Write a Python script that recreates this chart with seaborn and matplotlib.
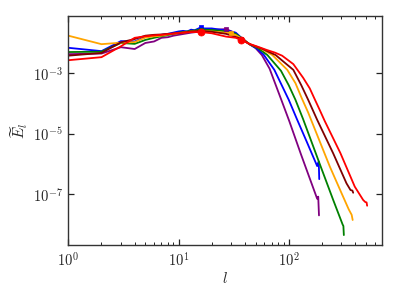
import numpy as np
import pandas as pd
import matplotlib
matplotlib.use("Agg")
import matplotlib.pyplot as plt
import seaborn as sns
from matplotlib.ticker import FixedLocator, FuncFormatter, NullLocator, NullFormatter, LogLocator

# ---- data (l, E_l) ----
purple_l = [1, 2, 3, 4, 5, 6, 7, 8, 9, 10, 13, 16, 20, 27, 33, 37, 44, 50, 57, 67, 85, 101, 129, 181, 185, 188]
purple_E = [4.27e-3, 4.47e-3, 7.24e-3, 6.31e-3, 1.0e-2, 1.12e-2, 1.48e-2, 1.55e-2, 1.74e-2, 1.86e-2, 2.19e-2, 2.40e-2,
            2.69e-2, 2.88e-2, 2.09e-2, 1.38e-2, 9.12e-3, 6.76e-3, 3.98e-3, 1.41e-3, 1.41e-4, 2.63e-5, 2.09e-6,
            7.08e-8, 8.32e-8, 2.0e-8]

blue_l = [1, 2, 3, 4, 5, 6, 7, 8, 10, 11, 12, 13, 14, 15, 16, 17, 20, 24, 27, 33, 38, 44, 51, 59, 74, 100, 118, 145,
          181, 187, 189]
blue_E = [6.92e-3, 5.37e-3, 1.15e-2, 1.12e-2, 1.58e-2, 1.74e-2, 1.86e-2, 2.0e-2, 2.40e-2, 2.51e-2, 2.40e-2, 2.75e-2,
          2.63e-2, 2.95e-2, 3.31e-2, 3.02e-2, 3.02e-2, 2.75e-2, 2.63e-2, 2.19e-2, 1.38e-2, 9.12e-3, 6.61e-3, 4.17e-3,
          1.29e-3, 1.32e-4, 3.16e-5, 5.62e-6, 8.51e-7, 1.20e-6, 3.16e-7]

green_l = [1, 2, 3, 4, 5, 6, 7, 8, 10, 13, 16, 20, 27, 30, 33, 38, 44, 53, 64, 85, 100, 115, 135, 191, 253, 308, 313,
           316]
green_E = [5.01e-3, 5.13e-3, 1.0e-2, 9.33e-3, 1.26e-2, 1.48e-2, 1.66e-2, 1.82e-2, 2.19e-2, 2.51e-2, 2.75e-2, 2.69e-2,
           2.40e-2, 2.19e-2, 2.0e-2, 1.38e-2, 9.12e-3, 6.61e-3, 3.98e-3, 1.20e-3, 3.98e-4, 1.32e-4, 3.02e-5, 1.0e-6,
           6.46e-8, 1.0e-8, 8.91e-9, 4.47e-9]

orange_l = [1, 2, 3, 4, 5, 6, 7, 8, 10, 13, 16, 20, 27, 30, 33, 38, 44, 55, 71, 97, 115, 131, 150, 161, 236, 300, 350,
            372, 380]
orange_E = [1.74e-2, 9.12e-3, 1.02e-2, 1.07e-2, 1.51e-2, 1.66e-2, 1.74e-2, 1.91e-2, 2.09e-2, 2.40e-2, 2.51e-2,
            2.40e-2, 2.19e-2, 2.09e-2, 1.82e-2, 1.35e-2, 9.12e-3, 6.76e-3, 3.98e-3, 1.29e-3, 4.68e-4, 1.51e-4,
            5.01e-5, 2.63e-5, 8.13e-7, 1.12e-7, 3.16e-8, 2.09e-8, 1.41e-8]

brown_l = [1, 2, 3, 4, 5, 6, 7, 8, 10, 13, 16, 20, 27, 33, 38, 44, 58, 76, 110, 130, 150, 181, 253, 334, 363, 378, 384]
brown_E = [3.80e-3, 4.68e-3, 1.05e-2, 1.35e-2, 1.74e-2, 1.86e-2, 1.91e-2, 2.0e-2, 2.09e-2, 2.40e-2, 2.51e-2,
           2.34e-2, 2.0e-2, 1.58e-2, 1.32e-2, 9.12e-3, 6.31e-3, 3.98e-3, 1.29e-3, 3.98e-4, 1.32e-4, 2.88e-5,
           2.24e-6, 2.29e-7, 1.38e-7, 1.32e-7, 1.12e-7]

red_l = [1, 2, 3, 4, 5, 6, 7, 8, 10, 13, 16, 20, 27, 33, 37, 44, 52, 63, 75, 87, 110, 135, 155, 173, 189, 212, 294,
         397, 473, 495, 508, 514]
red_E = [2.69e-3, 3.39e-3, 7.76e-3, 1.48e-2, 1.66e-2, 1.78e-2, 1.86e-2, 1.95e-2, 2.14e-2, 2.29e-2, 2.29e-2, 2.09e-2,
         1.62e-2, 1.48e-2, 1.26e-2, 9.33e-3, 7.59e-3, 5.89e-3, 4.79e-3, 3.80e-3, 2.0e-3, 7.08e-4, 3.16e-4,
         1.32e-4, 6.61e-5, 2.63e-5, 2.29e-6, 1.78e-7, 6.46e-8, 5.50e-8, 5.37e-8, 4.17e-8]

# square markers (one per series) and red circle markers
square_l = [16, 16, 27, 30, 37]
square_E = [3.31e-2, 2.75e-2, 2.88e-2, 2.09e-2, 1.32e-2]
square_colors = ["blue", "green", "purple", "orange", "#800000"]
circle_l = [16, 37]
circle_E = [2.29e-2, 1.26e-2]

series = [
    (purple_l, purple_E, "purple"),
    (blue_l, blue_E, "blue"),
    (green_l, green_E, "green"),
    (orange_l, orange_E, "orange"),
    (brown_l, brown_E, "#800000"),
    (red_l, red_E, "red"),
]

sns.set_theme(style="ticks")
plt.rcParams.update({
    "font.family": ["DejaVu Serif"],
    "mathtext.fontset": "cm",
    "font.size": 8.5,
    "axes.edgecolor": "#333333",
    "axes.linewidth": 1.0,
})

fig = plt.figure(figsize=(3.99, 2.99), dpi=100)
ax = fig.add_axes([0.1712, 0.1806, 0.786, 0.766])
ax.set_xscale("log")
ax.set_yscale("log")

for lv, Ev, c in series:
    df = pd.DataFrame({"l": lv, "E": Ev})
    sns.lineplot(data=df, x="l", y="E", color=c, lw=1.3, ax=ax, estimator=None, sort=False)

for lv, Ev, c in zip(square_l, square_E, square_colors):
    sns.scatterplot(x=[lv], y=[Ev], marker="s", color=c, s=10, edgecolor=c, linewidth=0.5, ax=ax, zorder=5)
sns.scatterplot(x=circle_l, y=circle_E, marker="o", color="red", s=26, edgecolor="red", linewidth=0.5, ax=ax, zorder=6)

ax.set_xlim(1, 700)
ax.set_ylim(2.1e-9, 7.8e-2)

fmt = FuncFormatter(lambda v, pos: r"$10^{%d}$" % int(round(np.log10(v))))
ax.xaxis.set_major_locator(FixedLocator([1, 10, 100]))
ax.xaxis.set_minor_locator(LogLocator(base=10, subs=np.arange(2, 10)))
ax.xaxis.set_major_formatter(fmt)
ax.xaxis.set_minor_formatter(NullFormatter())
ax.yaxis.set_major_locator(FixedLocator([1e-3, 1e-5, 1e-7]))
ax.yaxis.set_minor_locator(NullLocator())
ax.yaxis.set_major_formatter(fmt)

ax.tick_params(which="both", direction="in", top=True, right=True, color="#222222", labelsize=10.5)
ax.tick_params(which="major", length=4, width=0.9, pad=4)
ax.tick_params(which="minor", length=2.2, width=0.7)

ax.set_xlabel(r"$l$", fontsize=11, labelpad=2)
ax.set_ylabel(r"$\widetilde{E}_l$", fontsize=11, labelpad=2)

fig.savefig("out.png", dpi=100)
